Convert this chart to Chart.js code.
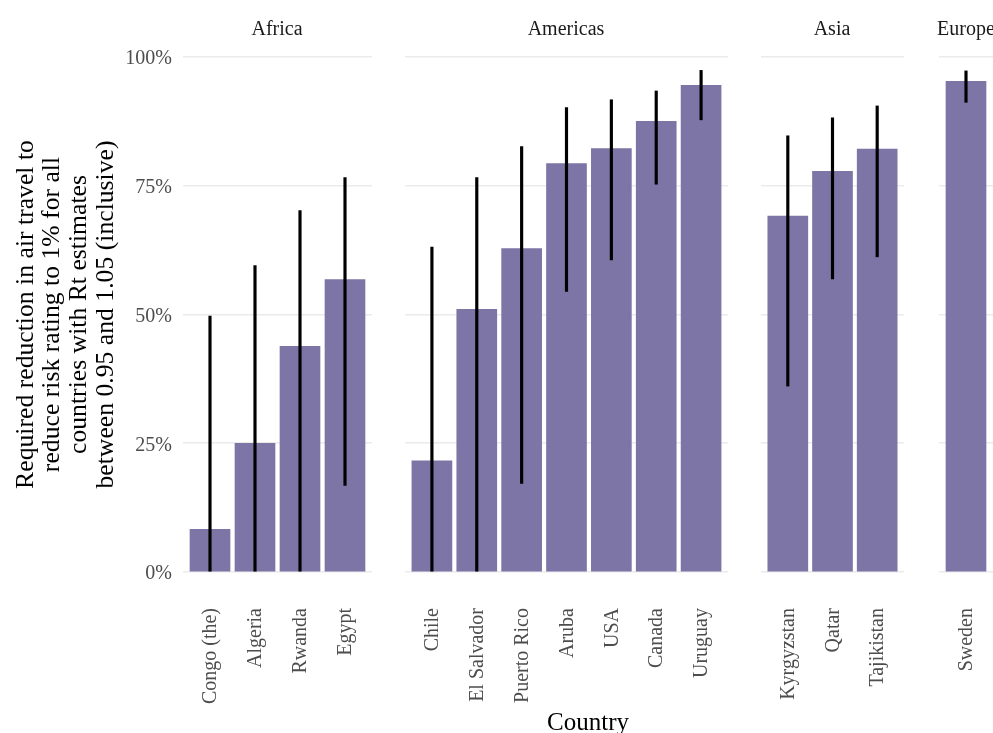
<!DOCTYPE html>
<html>
<head>
<meta charset="utf-8">
<script src="https://cdn.jsdelivr.net/npm/chart.js@4.4.1/dist/chart.umd.min.js"></script>
<style>
  body { margin: 0; background: #fff; width: 993px; height: 733px; overflow: hidden; position: relative; font-family: 'Liberation Serif', serif; }
  canvas { position: absolute; top: 0; }
  .strip { position: absolute; top: 16px; font-size: 20px; line-height: 24px; color: #1a1a1a; transform: translateX(-50%); white-space: nowrap; }
  #xtitle { position: absolute; left: 588px; top: 707px; font-size: 25px; line-height: 30px; color: #000; transform: translateX(-50%); }
</style>
</head>
<body>
<canvas id="africa" width="372" height="733" style="left:0px"></canvas>
<canvas id="americas" width="323" height="733" style="left:405px"></canvas>
<canvas id="asia" width="143" height="733" style="left:761px"></canvas>
<canvas id="europe" width="54" height="733" style="left:939px"></canvas>
<div class="strip" style="left:277px">Africa</div>
<div class="strip" style="left:566px">Americas</div>
<div class="strip" style="left:832px">Asia</div>
<div class="strip" style="left:966px">Europe</div>
<div id="xtitle">Country</div>

<script>
// values in percent
const africaCountries = ['Congo (the)', 'Algeria', 'Rwanda', 'Egypt'];
const africaValues = [8.3, 25.0, 43.8, 56.8];
const africaLow = [0, 0, 0, 16.8];
const africaHigh = [49.7, 59.5, 70.2, 76.6];

const americasCountries = ['Chile', 'El Salvador', 'Puerto Rico', 'Aruba', 'USA', 'Canada', 'Uruguay'];
const americasValues = [21.6, 51.0, 62.8, 79.3, 82.2, 87.5, 94.5];
const americasLow = [0, 0, 17.2, 54.5, 60.6, 75.3, 87.8];
const americasHigh = [63.1, 76.6, 82.6, 90.2, 91.7, 93.4, 97.4];

const asiaCountries = ['Kyrgyzstan', 'Qatar', 'Tajikistan'];
const asiaValues = [69.1, 77.8, 82.1];
const asiaLow = [36.1, 56.9, 61.2];
const asiaHigh = [84.7, 88.2, 90.5];

const europeCountries = ['Sweden'];
const europeValues = [95.3];
const europeLow = [91.2];
const europeHigh = [97.3];

const yTicks = [0, 25, 50, 75, 100];
const yTitle = [
  'Required reduction in air travel to',
  'reduce risk rating to 1% for all',
  'countries with Rt estimates',
  'between 0.95 and 1.05 (inclusive)'
];

Chart.defaults.font.family = "'Liberation Serif', serif";
Chart.defaults.animation = false;

const barColor = '#7c75a5';
const gridColor = '#ebebeb';
const tickColor = '#4d4d4d';

function facetChart(id, countries, values, low, high, first) {
  const ctx = document.getElementById(id);
  const n = countries.length;

  const bars = values.map((v, i) => ({x: i, y: v}));
  const ranges = low.map((lo, i) => ({x: i, y: [lo, high[i]]}));

  return new Chart(ctx, {
    type: 'bar',
    data: {
      datasets: [
        {
          label: 'range',
          data: ranges,
          backgroundColor: '#000',
          barThickness: 2.5,
          grouped: false,
          order: 0
        },
        {
          label: 'value',
          data: bars,
          backgroundColor: barColor,
          barThickness: 40,
          grouped: false,
          order: 1
        }
      ]
    },
    options: {
      responsive: false,
      devicePixelRatio: 1,
      layout: { padding: { top: 57, right: 0, bottom: 0, left: 0 } },
      plugins: { legend: { display: false }, tooltip: { enabled: false } },
      scales: {
        x: {
          type: 'linear',
          min: -0.6,
          max: n - 0.4,
          offset: false,
          grid: { display: false, drawTicks: false },
          border: { display: false },
          afterBuildTicks: axis => { axis.ticks = countries.map((c, i) => ({value: i})); },
          afterFit: axis => {
            axis.height = 161;
            axis.paddingLeft = 0;
            axis.paddingRight = 0;
          },
          ticks: {
            autoSkip: false,
            minRotation: 90,
            maxRotation: 90,
            padding: 36,
            labelOffset: 1,
            color: tickColor,
            font: { size: 20 },
            callback: v => countries[v]
          }
        },
        y: {
          min: 0,
          max: 100,
          grid: { color: gridColor, lineWidth: 1.6, drawTicks: false },
          border: { display: false },
          afterBuildTicks: axis => { axis.ticks = yTicks.map(v => ({value: v})); },
          afterFit: axis => { axis.width = first ? 183 : 0; },
          ticks: {
            display: first,
            padding: 11,
            labelOffset: 2,
            color: tickColor,
            font: { size: 20 },
            callback: v => v + '%'
          },
          title: {
            display: first,
            text: yTitle,
            color: '#000',
            font: { size: 25.7, lineHeight: 1.04 },
            padding: { top: 12.6, bottom: 0 }
          }
        }
      }
    }
  });
}

facetChart('africa', africaCountries, africaValues, africaLow, africaHigh, true);
facetChart('americas', americasCountries, americasValues, americasLow, americasHigh, false);
facetChart('asia', asiaCountries, asiaValues, asiaLow, asiaHigh, false);
facetChart('europe', europeCountries, europeValues, europeLow, europeHigh, false);
</script>
</body>
</html>
